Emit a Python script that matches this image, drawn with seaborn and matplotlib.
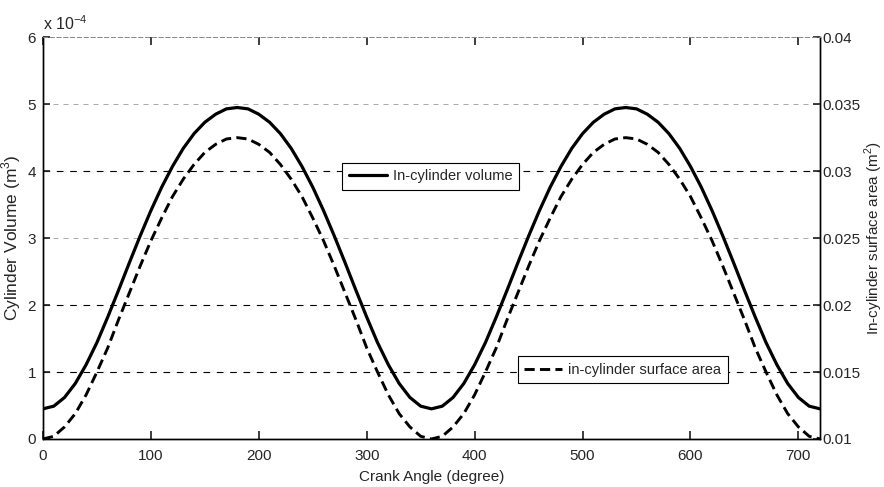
import numpy as np
import pandas as pd
import matplotlib
matplotlib.use("Agg")
import matplotlib.pyplot as plt
from matplotlib.ticker import FuncFormatter
import seaborn as sns

# --- values (every 10 degrees) ---
crank_angle = list(range(0, 721, 10))

# one stroke 0..180 (x 1e-4 m^3)
vol_up = [0.45, 0.49, 0.62, 0.83, 1.11, 1.44, 1.82, 2.22, 2.63, 3.03,
          3.41, 3.76, 4.07, 4.34, 4.56, 4.73, 4.85, 4.93, 4.95]
vol_down = [4.93, 4.85, 4.73, 4.56, 4.34, 4.07, 3.76, 3.41, 3.03,
            2.63, 2.22, 1.82, 1.44, 1.11, 0.83, 0.62, 0.49, 0.45]
volume_e4 = vol_up + vol_down + vol_up[1:] + vol_down

# surface area (m^2)
area_up = [0.0100, 0.0102, 0.0109, 0.0119, 0.0133, 0.0150, 0.0168, 0.0189, 0.0209, 0.0229,
           0.0248, 0.0265, 0.0281, 0.0294, 0.0305, 0.0314, 0.0320, 0.0324, 0.0325]
area_down = [0.0324, 0.0320, 0.0314, 0.0305, 0.0294, 0.0281, 0.0265, 0.0248, 0.0229,
             0.0209, 0.0189, 0.0168, 0.0150, 0.0133, 0.0119, 0.0109, 0.0102, 0.0100]
surface_area = area_up + area_down + area_up[1:] + area_down

x_ticks = [0, 100, 200, 300, 400, 500, 600, 700]
right_ticks = [0.01, 0.015, 0.02, 0.025, 0.03, 0.035, 0.04]
right_tick_labels = ["0.01", "0.015", "0.02", "0.025", "0.03", "0.035", "0.04"]

df = pd.DataFrame({
    "angle": crank_angle,
    "volume": np.array(volume_e4) * 1e-4,
    "area": surface_area,
})

sns.set_theme(style="ticks")
plt.rcParams["font.family"] = ["Liberation Sans", "DejaVu Sans"]
plt.rcParams["mathtext.fontset"] = "custom"
plt.rcParams["mathtext.rm"] = "Liberation Sans"

fig = plt.figure(figsize=(8.84, 4.87), dpi=100)
ax = fig.add_axes([0.0486, 0.0986, 0.879, 0.825])
ax2 = ax.twinx()

sns.lineplot(data=df, x="angle", y="volume", ax=ax, color="black", lw=2.3,
             label="In-cylinder volume", legend=False)
sns.lineplot(data=df, x="angle", y="area", ax=ax2, color="black", lw=2.1,
             linestyle=(0, (3.5, 1.8)), label="in-cylinder surface area", legend=False)

ax.set_xlim(0, 720)
ax.set_ylim(0, 6e-4)
ax2.set_ylim(0.01, 0.04)
ax.set_xticks(x_ticks)
ax.set_yticks(np.arange(0, 7) * 1e-4)
ax.yaxis.set_major_formatter(FuncFormatter(lambda v, p: f"{v * 1e4:.0f}"))
ax2.set_yticks(right_ticks)
ax2.set_yticklabels(right_tick_labels)

# dashed horizontal grid lines (3 and 5 are faint in the scan)
for k in range(1, 6):
    faint = k in (3, 5)
    ax.axhline(k * 1e-4, color="#9a9a9a" if faint else "black",
               lw=0.6 if faint else 0.8, ls=(0, (6, 6)), zorder=0)

for a in (ax, ax2):
    for s in a.spines.values():
        s.set_color("black")
        s.set_linewidth(1.0)
    a.spines["top"].set_color("#8a8a8a")
    a.spines["top"].set_linestyle((0, (4, 3)))
    a.spines["top"].set_linewidth(0.7)

ax.tick_params(axis="x", direction="in", top=True, length=6, labelsize=11, pad=7)
ax.tick_params(axis="y", direction="in", length=5, labelsize=11, pad=5)
ax2.tick_params(axis="y", direction="in", length=5, labelsize=11, pad=2)

ax.text(0.0, 1.01, "x 10$^{-4}$", transform=ax.transAxes, fontsize=11.5,
        ha="left", va="bottom")

ax.set_xlabel("Crank Angle (degree)", fontsize=11, labelpad=5)
ax.set_ylabel("Cylinder Volume (m$^3$)", fontsize=12.5, labelpad=3)
ax2.set_ylabel("In-cylinder surface area (m$^2$)", fontsize=11, labelpad=1)

leg_kw = dict(frameon=True, fancybox=False, edgecolor="black", fontsize=10.5,
              handlelength=2.6, handletextpad=0.4, borderpad=0.45, framealpha=1.0)
l1 = ax2.legend(*ax.get_legend_handles_labels(), loc="center",
                bbox_to_anchor=(0.499, 0.654), **leg_kw)
l1.get_frame().set_linewidth(0.8)
ax2.add_artist(l1)
l2 = ax2.legend(*ax2.get_legend_handles_labels(), loc="center",
                bbox_to_anchor=(0.746, 0.172), **leg_kw)
l2.get_frame().set_linewidth(0.8)

fig.savefig("out.png", dpi=100)
